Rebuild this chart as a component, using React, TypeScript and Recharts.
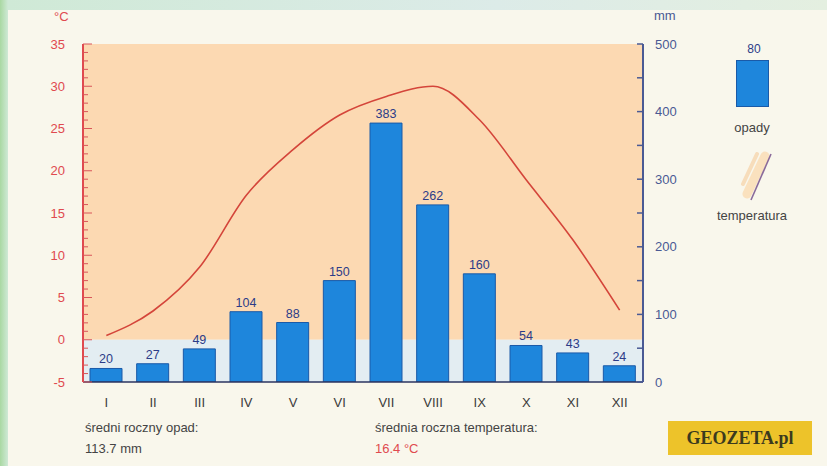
import React from 'react';
import {
  ComposedChart,
  Bar,
  Line,
  XAxis,
  YAxis,
  ReferenceArea,
  LabelList,
} from 'recharts';

const months = ['I', 'II', 'III', 'IV', 'V', 'VI', 'VII', 'VIII', 'IX', 'X', 'XI', 'XII'];
const precipitation = [20, 27, 49, 104, 88, 150, 383, 262, 160, 54, 43, 24];
const temperature = [0.5, 3.4, 8.6, 17.1, 22.5, 26.6, 28.8, 30.0, 26.0, 18.9, 11.8, 3.5];
const tempTicks = [-5, -4, -3, -2, -1, 0, 1, 2, 3, 4, 5, 6, 7, 8, 9, 10, 11, 12, 13, 14, 15, 16, 17, 18, 19, 20, 21, 22, 23, 24, 25, 26, 27, 28, 29, 30, 31, 32, 33, 34, 35];
const tempMajorTicks = [-5, 0, 5, 10, 15, 20, 25, 30, 35];
const precipTicks = [0, 50, 100, 150, 200, 250, 300, 350, 400, 450, 500];
const precipMajorTicks = [0, 100, 200, 300, 400, 500];

const data = months.map((m, i) => ({ month: m, opady: precipitation[i], temp: temperature[i] }));

const FONT = "'Liberation Sans', Arial, sans-serif";
const RED = '#e04a4f';
const NAVY = '#4a5a94';

const LeftTick = (props: any) => {
  const { x, y, payload } = props;
  const v = payload.value;
  const major = tempMajorTicks.includes(v);
  return (
    <g>
      <line x1={x} x2={x + (major ? 9 : 5)} y1={y} y2={y} stroke="#d8565a" strokeWidth={1} />
      {major && (
        <text x={x - 18} y={y} textAnchor="end" dominantBaseline="central" fill={RED} fontSize={13} fontFamily={FONT}>
          {v}
        </text>
      )}
    </g>
  );
};

const RightTick = (props: any) => {
  const { x, y, payload } = props;
  const v = payload.value;
  const major = precipMajorTicks.includes(v);
  return (
    <g>
      <line x1={x} x2={x - 6} y1={y} y2={y} stroke={NAVY} strokeWidth={1.5} />
      {major && (
        <text x={x + 12} y={y} textAnchor="start" dominantBaseline="central" fill={NAVY} fontSize={13} fontFamily={FONT}>
          {v}
        </text>
      )}
    </g>
  );
};

const txt = (style: React.CSSProperties): React.CSSProperties => ({
  position: 'absolute',
  fontFamily: FONT,
  whiteSpace: 'nowrap',
  lineHeight: 1,
  ...style,
});

export default function App() {
  return (
    <div
      style={{
        position: 'absolute',
        left: 0,
        top: 0,
        width: 827,
        height: 466,
        overflow: 'hidden',
        background: 'linear-gradient(90deg, #a9d8a2 0px, #cfe9d6 8px, #dcebe8 60%, #e4efe0 100%)',
      }}
    >
      <div
        style={{
          position: 'absolute',
          left: 8,
          top: 10,
          width: 819,
          height: 456,
          background: '#f9f7ec',
        }}
      />
      <div style={{ position: 'absolute', left: 0, top: 0 }}>
        <ComposedChart
          width={827}
          height={466}
          data={data}
          margin={{ top: 44, right: 144, bottom: 54, left: 43 }}
        >
          <XAxis
            dataKey="month"
            xAxisId="x"
            tickSize={0}
            tickMargin={16}
            axisLine={{ stroke: '#2b3460', strokeWidth: 1.5 }}
            tick={{ fill: '#3a3a3a', fontSize: 13, fontFamily: FONT }}
            interval={0}
          />
          <YAxis
            yAxisId="t"
            orientation="left"
            width={40}
            domain={[-5, 35]}
            ticks={tempTicks}
            interval={0}
            allowDataOverflow
            tickSize={0}
            tickMargin={0}
            tickLine={false}
            axisLine={{ stroke: RED, strokeWidth: 2 }}
            tick={<LeftTick />}
          />
          <YAxis
            yAxisId="p"
            orientation="right"
            width={40}
            domain={[0, 500]}
            ticks={precipTicks}
            interval={0}
            allowDataOverflow
            tickSize={0}
            tickMargin={0}
            tickLine={false}
            axisLine={{ stroke: NAVY, strokeWidth: 2 }}
            tick={<RightTick />}
          />
          <ReferenceArea xAxisId="x" yAxisId="t" y1={0} y2={35} fill="#fcd9b2" fillOpacity={1} stroke="none" />
          <ReferenceArea xAxisId="x" yAxisId="t" y1={-5} y2={0} fill="#e3edf2" fillOpacity={1} stroke="none" />
          <Bar xAxisId="x" yAxisId="p" dataKey="opady" fill="#1e86dc" stroke="#1a5aa8" strokeWidth={1} barSize={32} isAnimationActive={false}>
            <LabelList dataKey="opady" position="top" offset={5} fill="#2c3c88" fontSize={12.5} fontFamily={FONT} />
          </Bar>
          <Line
            xAxisId="x"
            yAxisId="t"
            dataKey="temp"
            type="monotone"
            stroke="#d4453a"
            strokeWidth={1.6}
            dot={false}
            activeDot={false}
            isAnimationActive={false}
          />
        </ComposedChart>
      </div>

      <div style={txt({ left: 54, top: 10, fontSize: 13, color: RED })}>°C</div>
      <div style={txt({ left: 654, top: 9, fontSize: 13, color: NAVY })}>mm</div>

      <div style={txt({ left: 85, top: 421, fontSize: 13, color: '#444' })}>średni roczny opad:</div>
      <div style={txt({ left: 85, top: 442, fontSize: 13, color: '#444' })}>113.7 mm</div>
      <div style={txt({ left: 375, top: 421, fontSize: 13, color: '#444' })}>średnia roczna temperatura:</div>
      <div style={txt({ left: 375, top: 442, fontSize: 13, color: RED })}>16.4 °C</div>

      <div style={txt({ left: 741, top: 43, fontSize: 12, color: '#2c3c88', width: 26, textAlign: 'center' })}>80</div>
      <div
        style={{
          position: 'absolute',
          left: 736,
          top: 60,
          width: 33,
          height: 47,
          background: '#1e86dc',
          border: '1px solid #1a5aa8',
          boxSizing: 'border-box',
        }}
      />
      <div style={txt({ left: 712, top: 121, fontSize: 13, color: '#444', width: 80, textAlign: 'center' })}>opady</div>
      <svg style={{ position: 'absolute', left: 735, top: 148 }} width={45} height={60}>
        <line x1={30} y1={8} x2={12} y2={46} stroke="#fbd3a0" strokeWidth={9} strokeLinecap="round" opacity={0.6} />
        <line x1={22} y1={6} x2={8} y2={36} stroke="#f6c48c" strokeWidth={4} strokeLinecap="round" opacity={0.5} />
        <line x1={36} y1={6} x2={16} y2={52} stroke="#8a6a9a" strokeWidth={1.6} />
      </svg>
      <div style={txt({ left: 694, top: 209, fontSize: 13, color: '#444', width: 116, textAlign: 'center' })}>temperatura</div>

      <div
        style={{
          position: 'absolute',
          left: 668,
          top: 421,
          width: 144,
          height: 34,
          background: '#edc32a',
          display: 'flex',
          alignItems: 'center',
          justifyContent: 'center',
        }}
      >
        <span style={{ fontFamily: "'Liberation Serif', 'DejaVu Serif', serif", fontWeight: 'bold', fontSize: 18, color: '#3b3a1e' }}>
          GEOZETA.pl
        </span>
      </div>
    </div>
  );
}
